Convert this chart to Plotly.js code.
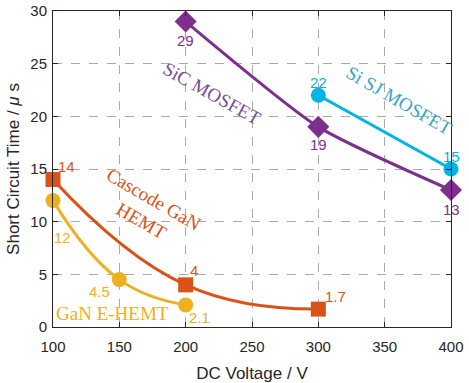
<!DOCTYPE html>
<html><head><meta charset="utf-8">
<script src="https://cdn.plot.ly/plotly-3.0.1.min.js"></script>
<style>body{margin:0;background:#fff}#c{width:469px;height:383px}</style>
</head><body><div id="c"></div>
<script>
// Data
const sicX = [200, 300, 400];
const sicY = [29, 19, 13];
const siX = [300, 400];
const siY = [22, 15];
const cascX = [100, 200, 300];
const cascY = [14, 4, 1.7];
const eX = [100, 150, 200];
const eY = [12, 4.5, 2.1];
const xTicks = [100, 150, 200, 250, 300, 350, 400];
const yTicks = [0, 5, 10, 15, 20, 25, 30];

const cPurple = '#7E2F8E', cCyan = '#00B4E6', cOrange = '#D95319', cYellow = '#EDB120';

const traces = [
  {x: sicX, y: sicY, mode: 'lines+markers', line: {color: cPurple, width: 3, shape: 'spline', smoothing: 0.6},
   marker: {symbol: 'diamond', size: 17, color: cPurple}},
  {x: siX, y: siY, mode: 'lines+markers', line: {color: cCyan, width: 3},
   marker: {symbol: 'circle', size: 15, color: cCyan}},
  {x: cascX, y: cascY, mode: 'lines+markers', line: {color: cOrange, width: 3, shape: 'spline', smoothing: 1.3},
   marker: {symbol: 'square', size: 15, color: cOrange}},
  {x: eX, y: eY, mode: 'lines+markers', line: {color: cYellow, width: 3, shape: 'spline', smoothing: 1.3},
   marker: {symbol: 'circle', size: 15, color: cYellow}}
];

const sansF = (c) => ({family: 'Liberation Sans, Arial, sans-serif', size: 15, color: c});
const serifF = (c) => ({family: 'Liberation Serif, Times New Roman, serif', size: 19, color: c});

function valLabels(xs, ys, color, offs) {
  return xs.map((x, i) => ({x: x, y: ys[i], text: String(ys[i]), showarrow: false,
    xshift: offs[i][0], yshift: offs[i][1], font: sansF(color)}));
}

const annotations = [].concat(
  valLabels(sicX, sicY, cPurple, [[0, -19], [0, -18], [0, -19]]),
  valLabels(siX, siY, cCyan, [[0, 13], [0, 13]]),
  valLabels(cascX, cascY, cOrange, [[13, 13], [8, 14], [17, 13]]),
  valLabels(eX, eY, cYellow, [[9, -37], [-20, -12], [14, -13]]),
  [
    {x: 220, y: 22.2, text: 'SiC MOSFET', showarrow: false, textangle: 29, font: serifF('#7B4C9C')},
    {x: 361, y: 21.5, text: 'Si SJ MOSFET', showarrow: false, textangle: 30, font: serifF('#3AA6C8')},
    {x: 171, y: 11.1, text: 'Cascode GaN<br>HEMT', showarrow: false, textangle: 30, font: serifF(cOrange)},
    {x: 144.5, y: 1.3, text: 'GaN E-HEMT', showarrow: false, font: serifF(cYellow)}
  ]
);

const axisCommon = {
  showline: true, linecolor: '#262626', linewidth: 1, mirror: 'ticks',
  ticks: 'inside', ticklen: 5, tickcolor: '#262626',
  showgrid: true, gridcolor: '#aaaaaa', griddash: 'dash', gridwidth: 1,
  zeroline: false, tickfont: {family: 'Liberation Sans, Arial, sans-serif', size: 15, color: '#262626'}
};

const layout = {
  width: 469, height: 383,
  margin: {l: 53, r: 18, t: 11, b: 56},
  paper_bgcolor: '#fff', plot_bgcolor: '#fff',
  showlegend: false,
  xaxis: Object.assign({}, axisCommon, {range: [100, 400], tickvals: xTicks, ticklabelstandoff: 6,
    title: {text: 'DC Voltage / V', standoff: 13, font: {family: 'Liberation Sans, Arial, sans-serif', size: 17, color: '#262626'}}}),
  yaxis: Object.assign({}, axisCommon, {range: [0, 30], tickvals: yTicks, ticklabelstandoff: 2,
    title: {text: 'Short Circuit Time / <i>μ</i> s', standoff: 6, font: {family: 'Liberation Sans, Arial, sans-serif', size: 17, color: '#262626'}}}),
  annotations: annotations
};

traces.forEach(t => t.cliponaxis = false);
Plotly.newPlot('c', traces, layout, {staticPlot: true});
</script></body></html>
